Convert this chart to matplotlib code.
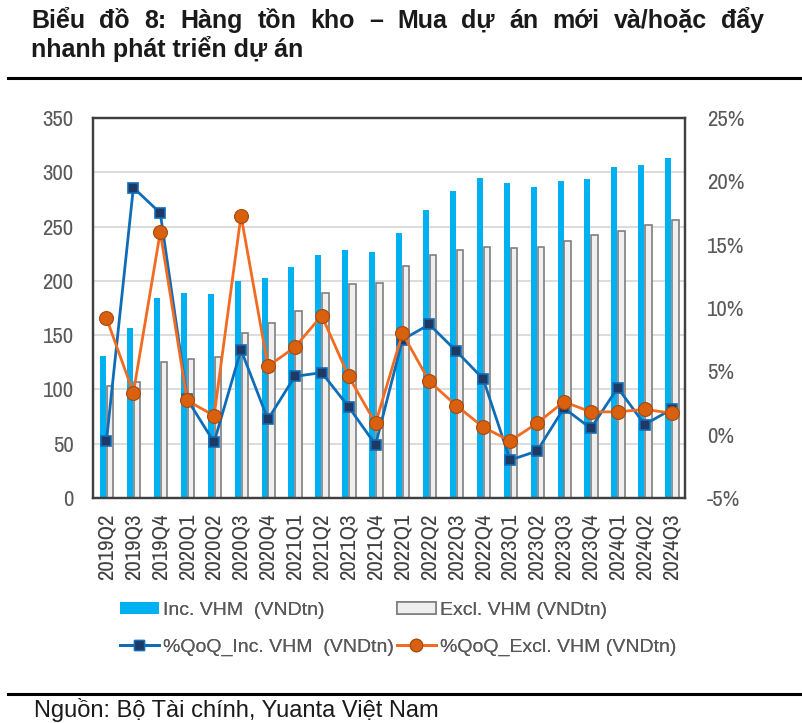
import numpy as np
import matplotlib
matplotlib.use("Agg")
import matplotlib.pyplot as plt
from matplotlib.patches import Patch
from matplotlib.lines import Line2D
from matplotlib.ticker import FuncFormatter

quarters = ["2019Q2", "2019Q3", "2019Q4", "2020Q1", "2020Q2", "2020Q3", "2020Q4",
            "2021Q1", "2021Q2", "2021Q3", "2021Q4", "2022Q1", "2022Q2", "2022Q3",
            "2022Q4", "2023Q1", "2023Q2", "2023Q3", "2023Q4", "2024Q1", "2024Q2",
            "2024Q3"]
inc_vhm = [131, 157, 184, 189, 188, 200, 203, 213, 224, 228, 227, 244, 265, 283,
           295, 290, 286, 292, 294, 305, 307, 313]
excl_vhm = [103, 107, 125, 128, 130, 152, 161, 172, 189, 197, 198, 214, 224, 228,
            231, 230, 231, 237, 242, 246, 251, 256]
qoq_inc = [-0.5, 19.5, 17.5, 2.8, -0.6, 6.7, 1.2, 4.6, 4.9, 2.2, -0.8, 7.5, 8.7,
           6.6, 4.4, -2.0, -1.3, 2.1, 0.5, 3.7, 0.8, 2.0]
qoq_excl = [9.2, 3.3, 16.0, 2.7, 1.5, 17.3, 5.4, 6.9, 9.4, 4.6, 0.9, 8.0, 4.2,
            2.3, 0.6, -0.5, 0.9, 2.6, 1.8, 1.8, 2.0, 1.7]

title_1 = "Biểu đồ 8: Hàng tồn kho – Mua dự án mới và/hoặc đẩy"
title_2 = "nhanh phát triển dự án"
source = "Nguồn: Bộ Tài chính, Yuanta Việt Nam"

NARROW = ["Archivo Narrow", "Liberation Sans", "DejaVu Sans"]
ARIAL = ["Liberation Sans", "DejaVu Sans"]
plt.rcParams["font.family"] = NARROW

blue_bar = "#00B0F0"
grey_face, grey_edge = "#EFEFEF", "#7F7F7F"
blue_line, blue_mk = "#0F6CB6", "#1F3864"
orange_line, orange_mk, orange_edge = "#F26B21", "#D9600F", "#A64A0C"
tick_grey = "#595959"

W, H = 802, 723
fig = plt.figure(figsize=(W / 100, H / 100), dpi=100)
ax = fig.add_axes([93 / W, 1 - 498 / H, 592 / W, 380 / H])
ax2 = ax.twinx()

x = np.arange(len(quarters))
ax.bar(x - 0.125, inc_vhm, width=0.22, color=blue_bar, zorder=2)
ax.bar(x + 0.14, excl_vhm, width=0.24, color=grey_face, edgecolor=grey_edge,
       linewidth=1.2, zorder=2)

ax2.plot(x, qoq_inc, color=blue_line, lw=2.0, marker="s", markersize=7.5,
         markerfacecolor=blue_mk, markeredgecolor=blue_line, markeredgewidth=1.2,
         zorder=3)
ax2.plot(x, qoq_excl, color=orange_line, lw=2.0, marker="o", markersize=10,
         markerfacecolor=orange_mk, markeredgecolor=orange_edge,
         markeredgewidth=0.8, zorder=4)

ax.set_xlim(-0.5, len(quarters) - 0.5)
ax.set_ylim(0, 350)
ax.set_yticks(np.arange(0, 351, 50))
ax2.set_ylim(-5, 25)
ax2.set_yticks(np.arange(-5, 26, 5))
ax2.yaxis.set_major_formatter(FuncFormatter(lambda v, p: f"{v:.0f}%"))

ax.grid(axis="y", color="#D9D9D9", lw=1.3, zorder=0)
ax.set_axisbelow(True)
ax.set_xticks(x)
ax.set_xticklabels(quarters, rotation=90)
ax.tick_params(axis="x", length=0, pad=11, labelsize=16.5, labelcolor="#404040")
ax.tick_params(axis="y", length=0, pad=14, labelsize=16.5, labelcolor=tick_grey)
ax2.tick_params(axis="y", length=0, pad=16, labelsize=16.5, labelcolor=tick_grey)
for a in (ax, ax2):
    for s in a.spines.values():
        s.set_color("#3F3F3F")
        s.set_linewidth(1.6)

# legend, one per column
bar_handles = [Patch(facecolor=blue_bar, edgecolor="none"),
               Patch(facecolor=grey_face, edgecolor=grey_edge, linewidth=1.2)]
line_handles = [
    Line2D([], [], color=blue_line, lw=2.0, marker="s", markersize=7,
           markerfacecolor=blue_mk, markeredgecolor=blue_line),
    Line2D([], [], color=orange_line, lw=2.0, marker="o", markersize=9,
           markerfacecolor=orange_mk, markeredgecolor=orange_edge,
           markeredgewidth=0.8),
]
col_labels = [["Inc. VHM  (VNDtn)", "%QoQ_Inc. VHM  (VNDtn)"],
              ["Excl. VHM (VNDtn)", "%QoQ_Excl. VHM (VNDtn)"]]
for i, x0 in enumerate([120, 397]):
    leg = fig.legend([bar_handles[i], line_handles[i]], col_labels[i],
                     loc="upper left", bbox_to_anchor=(x0 / W, 1 - 602 / H),
                     frameon=False, prop={"family": ARIAL, "size": 14},
                     labelcolor=tick_grey, handlelength=2.0, handleheight=0.55,
                     handletextpad=0.2, labelspacing=1.0, borderaxespad=0,
                     borderpad=0)
    fig.add_artist(leg)

# title: first line justified to the right margin
renderer = fig.canvas.get_renderer()
tkw = dict(fontsize=18, fontweight="bold", family=ARIAL, color="#1a1a1a",
           va="baseline")
words = [fig.text(0, 1 - 28 / H, w, **tkw) for w in title_1.split(" ")]
widths = [t.get_window_extent(renderer).width for t in words]
x_left, x_right = 31, 764
gap = (x_right - x_left - sum(widths)) / (len(words) - 1)
xpos = x_left
for t, w in zip(words, widths):
    t.set_x(xpos / W)
    xpos += w + gap
fig.text(x_left / W, 1 - 57 / H, title_2, **tkw)

fig.add_artist(Line2D([8 / W, 1], [1 - 78 / H] * 2, color="black", lw=2.2))
fig.add_artist(Line2D([8 / W, 1], [1 - 694 / H] * 2, color="black", lw=2.2))
fig.text(34 / W, 1 - 717 / H, source, fontsize=17, family=ARIAL,
         color="#1a1a1a", va="baseline")

fig.savefig("out.png", dpi=100, facecolor="white")
